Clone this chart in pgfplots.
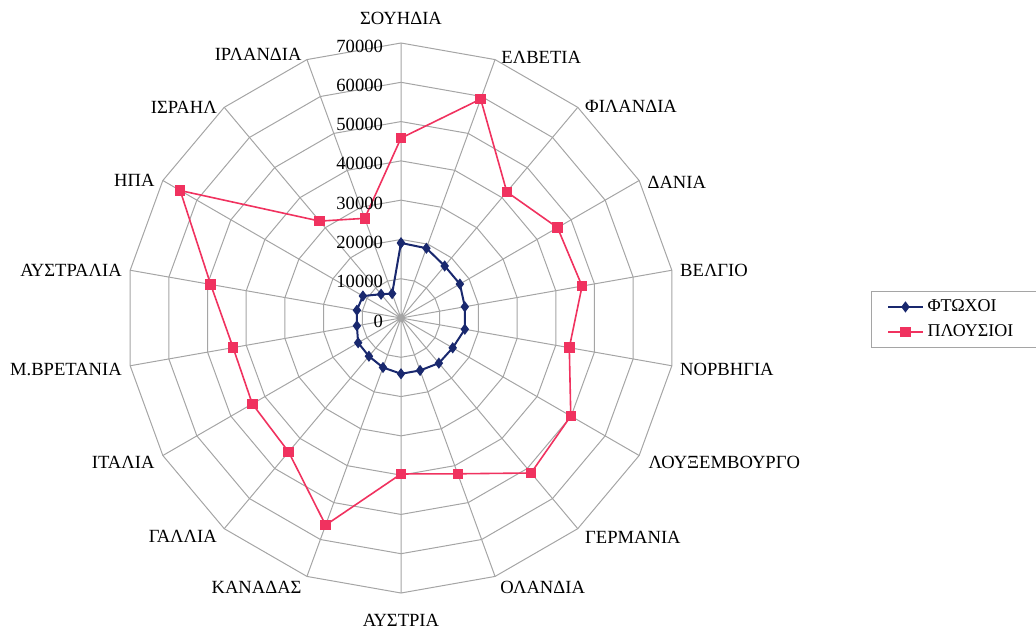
\documentclass[border=0pt]{standalone}
\usepackage{fontspec}
\setmainfont{Liberation Serif}
\usepackage{pgfplots}
\usepgfplotslibrary{polar}
\pgfplotsset{compat=1.18}
\definecolor{poor}{RGB}{25,40,110}
\definecolor{rich}{RGB}{240,50,95}
\definecolor{gridc}{RGB}{165,165,165}
\newcommand{\lf}{\fontsize{9.3}{11}\selectfont}
\tikzset{cat/.style={font=\lf, inner xsep=0pt}}
\begin{document}
\begin{tikzpicture}
\begin{polaraxis}[
  clip=false,
  scale only axis, width=275pt, height=275pt,
  ymin=0, ymax=70000,
  xmin=0, xmax=360,
  xtick={10,30,...,350},
  xticklabels={},
  ytick=\empty,
  xmajorgrids,
  major grid style={gridc, line width=0.5pt},
  axis line style={draw=none},
  major tick length=0pt,
  legend style={at={(1.3545,0.549)}, anchor=north west, draw=gridc, font=\fontsize{9}{11}\selectfont, inner xsep=8pt, inner ysep=2pt, row sep=1pt},
  legend cell align=left,
]
\pgfplotsinvokeforeach{10000,20000,30000,40000,50000,60000,70000}{
  \addplot[gridc, line width=0.5pt, no marks, forget plot] coordinates {(10,#1)(30,#1)(50,#1)(70,#1)(90,#1)(110,#1)(130,#1)(150,#1)(170,#1)(190,#1)(210,#1)(230,#1)(250,#1)(270,#1)(290,#1)(310,#1)(330,#1)(350,#1)(370,#1)};
}
\addplot[poor, line width=1pt, mark=diamond*, mark size=2pt, mark options={solid, fill=poor}] coordinates {
 (90,19100)(70,18900)(50,17300)(30,17300)(10,16500)(-10,16500)(-30,15200)(-50,15000)(-70,14200)(-90,14200)(-110,13400)(-130,12700)(-150,12600)(-170,11400)(-190,11400)(-210,11200)(-230,7900)(-250,6600)(-270,19100)};
\addlegendentry{\makebox[60pt][l]{ΦΤΩΧΟΙ}}
\addplot[rich, line width=0.8pt, mark=square*, mark size=2.2pt, mark options={solid, fill=rich}] coordinates {
 (90,45800)(70,59300)(50,41900)(30,46000)(10,46800)(-10,43500)(-30,49900)(-50,51500)(-70,42200)(-90,39700)(-110,56100)(-130,44500)(-150,43700)(-170,43400)(-190,49200)(-210,64900)(-230,32200)(-250,27000)(-270,45800)};
\addlegendentry{\makebox[60pt][l]{ΠΛΟΥΣΙΟΙ}}
\pgfplotsinvokeforeach{0,10000,20000,30000,40000,50000,60000,70000}{
  \node[anchor=east, xshift=-5.5pt, yshift=-1.5pt, font=\lf] at (axis cs:90,#1) {#1};
}
\node[cat, anchor=center, yshift=12.5pt] at (axis cs:90,70000) {ΣΟΥΗΔΙΑ};
\node[cat, anchor=west, xshift=3pt, yshift=1pt] at (axis cs:70,70000) {ΕΛΒΕΤΙΑ};
\node[cat, anchor=west, xshift=3.5pt, yshift=0.5pt] at (axis cs:50,70000) {ΦΙΛΑΝΔΙΑ};
\node[cat, anchor=west, xshift=4pt, yshift=-0.75pt] at (axis cs:30,70000) {ΔΑΝΙΑ};
\node[cat, anchor=west, xshift=4pt] at (axis cs:10,70000) {ΒΕΛΓΙΟ};
\node[cat, anchor=west, xshift=4pt, yshift=-2pt] at (axis cs:-10,70000) {ΝΟΡΒΗΓΙΑ};
\node[cat, anchor=west, xshift=4.5pt, yshift=-3.5pt] at (axis cs:-30,70000) {ΛΟΥΞΕΜΒΟΥΡΓΟ};
\node[cat, anchor=west, xshift=3.5pt, yshift=-4.5pt] at (axis cs:-50,70000) {ΓΕΡΜΑΝΙΑ};
\node[cat, anchor=west, xshift=2.5pt, yshift=-5.5pt] at (axis cs:-70,70000) {ΟΛΑΝΔΙΑ};
\node[cat, anchor=center, yshift=-13.5pt] at (axis cs:-90,70000) {ΑΥΣΤΡΙΑ};
\node[cat, anchor=east, xshift=-2.5pt, yshift=-5.5pt] at (axis cs:-110,70000) {ΚΑΝΑΔΑΣ};
\node[cat, anchor=east, xshift=-3.5pt, yshift=-4pt] at (axis cs:-130,70000) {ΓΑΛΛΙΑ};
\node[cat, anchor=east, xshift=-4pt, yshift=-3.5pt] at (axis cs:-150,70000) {ΙΤΑΛΙΑ};
\node[cat, anchor=east, xshift=-4pt, yshift=-2pt] at (axis cs:-170,70000) {Μ.ΒΡΕΤΑΝΙΑ};
\node[cat, anchor=east, xshift=-4pt] at (axis cs:170,70000) {ΑΥΣΤΡΑΛΙΑ};
\node[cat, anchor=east, xshift=-4pt] at (axis cs:150,70000) {ΗΠΑ};
\node[cat, anchor=east, xshift=-3.5pt] at (axis cs:130,70000) {ΙΣΡΑΗΛ};
\node[cat, anchor=east, xshift=-2.5pt, yshift=2.5pt] at (axis cs:110,70000) {ΙΡΛΑΝΔΙΑ};
\coordinate (c) at (axis cs:0,0);
\end{polaraxis}
\pgfresetboundingbox
\path (c) ++(-200.5pt,-157pt) rectangle ++(518pt,316pt);
\end{tikzpicture}
\end{document}
